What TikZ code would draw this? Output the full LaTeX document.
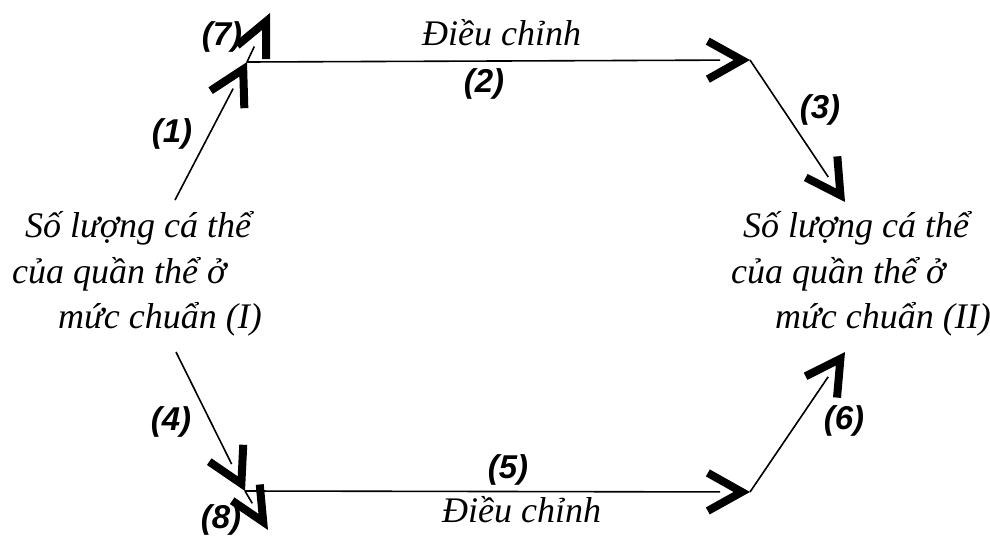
\documentclass[tikz,border=0pt]{standalone}
\usepackage{fontspec}
\setmainfont{Liberation Serif}
\setsansfont{Liberation Sans}
\usetikzlibrary{arrows.meta,calc}
\tikzset{
  bighead/.tip={Straight Barb[length=34pt,width=38pt,line width'=8pt]},
  smallhead/.tip={Straight Barb[length=34pt,width=32pt,line width'=8pt]},
  txt/.style={font=\fontsize{36}{42}\selectfont\itshape, inner sep=0pt, anchor=base west},
  lbl/.style={font=\fontsize{33}{40}\selectfont\sffamily\bfseries\itshape, inner sep=0pt},
  conn/.style={line width=1.6pt},
  big/.style={conn, shorten >=30pt},
  headbig/.style={line width=1.6pt, -{bighead}},
  headsmall/.style={line width=1.6pt, -{smallhead}}
}
\begin{document}
\begin{tikzpicture}[x=1pt,y=-1pt]
\useasboundingbox (0,0) rectangle (990,536);
% text blocks
\node[txt] (l1) at (25,237) {Số lượng cá thể};
\node[txt] (l2) at (12,283) {của quần thể ở};
\node[txt] (l3) at (58,328) {mức chuẩn (I)};
\node[txt] (r1) at (743,237) {Số lượng cá thể};
\node[txt] (r2) at (731,283) {của quần thể ở};
\node[txt] (r3) at (775,328) {mức chuẩn (II)};
\node[txt] (t1) at (422,45) {Điều chỉnh};
\node[txt] (t2) at (442,522) {Điều chỉnh};
% connector points
\coordinate (s1) at (175,200);
\coordinate (a1) at (247,62);
\coordinate (a7) at (270,13);
\coordinate (a2) at (750,60);
\coordinate (a3) at (845,202);
\coordinate (s4) at (176,352);
\coordinate (a4) at (245,491);
\coordinate (a8) at (268,530);
\coordinate (a5) at (750,492);
\coordinate (a6) at (845,352);
% connectors
\draw[big] (s1) -- (a1);
\draw[conn, shorten >=37pt] (a1) -- (a7);
\draw[big] (a1) -- (a2);
\draw[big] (a2) -- (a3);
\draw[big] (s4) -- (a4);
\draw[conn, shorten >=31pt] (a4) -- (a8);
\draw[big] (a4) -- (a5);
\draw[big] (a5) -- (a6);
% arrowheads
\draw[headbig] ($(a1)!2pt!(s1)$) -- (a1);
\draw[headsmall] ($(a7)!2pt!(a1)$) -- (a7);
\draw[headbig] ($(a2)!2pt!(a1)$) -- (a2);
\draw[headbig] ($(a3)!2pt!(a2)$) -- (a3);
\draw[headbig] ($(a4)!2pt!(s4)$) -- (a4);
\draw[headsmall] ($(a8)!2pt!(a4)$) -- (a8);
\draw[headbig] ($(a5)!2pt!(a4)$) -- (a5);
\draw[headbig] ($(a6)!2pt!(a5)$) -- (a6);
% labels
\node[lbl] (n1) at (172,134) {(1)};
\node[lbl] (n7) at (222,37) {(7)};
\node[lbl] (n2) at (484,84) {(2)};
\node[lbl] (n3) at (820,110) {(3)};
\node[lbl] (n4) at (171,422) {(4)};
\node[lbl] (n8) at (221,520) {(8)};
\node[lbl] (n5) at (508,470) {(5)};
\node[lbl] (n6) at (844,421) {(6)};
\end{tikzpicture}
\end{document}
